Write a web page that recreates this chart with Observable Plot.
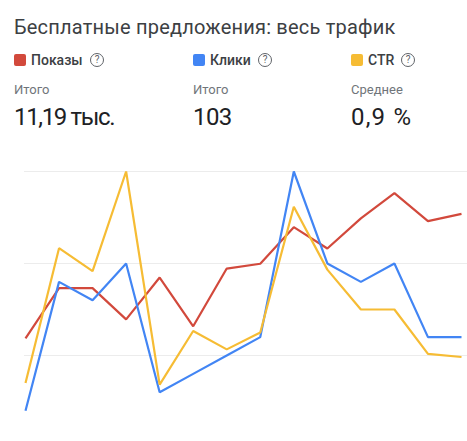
<!DOCTYPE html>
<html lang="ru">
<head>
<meta charset="utf-8">
<script src="https://cdn.jsdelivr.net/npm/d3@7"></script>
<script src="https://cdn.jsdelivr.net/npm/@observablehq/plot@0.6"></script>
<style>
html,body{margin:0;padding:0;background:#fff;overflow:hidden}
#page{position:relative;width:467px;height:441px;font-family:Roboto,sans-serif;color:#202124}
#page div.t{position:absolute;white-space:nowrap;line-height:1}
.title{left:14px;top:17px;font-size:20px;letter-spacing:.2px;color:#3c4043}
.sw{position:absolute;top:54px;width:12px;height:12px;border-radius:2px}
.name{top:53px;font-size:14px;font-weight:500;color:#3c4043}
.help{position:absolute;top:53px;width:12px;height:12px;border:1.2px solid #5f6368;border-radius:50%;font-size:10px;line-height:12px;text-align:center;color:#5f6368}
.sub{top:83px;font-size:13px;color:#70757a}
.val{top:105px;font-size:24px;color:#202124}
#chart{position:absolute;left:0;top:150px}
</style>
</head>
<body>
<div id="page">
  <div class="t title">Бесплатные предложения: весь трафик</div>
  <div id="head"></div>
  <div id="chart"></div>
</div>
<script>
const periods = [0,1,2,3,4,5,6,7,8,9,10,11,12,13];
const impressions = [474,693,693,557,739,527,778,799,958,865,996,1106,984,1016];
const clicks = [2,9,8,10,3,4,5,6,15,10,9,10,6,6];
const ctr = [0.42,1.30,1.15,1.80,0.41,0.76,0.64,0.75,1.57,1.16,0.90,0.90,0.61,0.59];
const seriesNames = ["Показы","Клики","CTR"];
const seriesColors = ["#d2493c","#4285f4","#f6bc34"];
const axisMax = [1200,15,1.8];
const gridFractions = [1/3,2/3,1];
const summaryLabels = ["Итого","Итого","Среднее"];
const summaryValues = ["11,19 тыс.","103","0,9 %"];

const columns = [14,193,351];
const helpOffsets = [76,65,50];
const valueSpacing = [-1.35,-0.6,1.2];
const head = document.getElementById("head");
seriesNames.forEach((n,i)=>{
  const x = columns[i];
  head.insertAdjacentHTML("beforeend",
    `<span class="sw" style="left:${x}px;background:${seriesColors[i]}"></span>`+
    `<div class="t name" style="left:${x+17}px">${n}</div>`+
    `<span class="help" style="left:${x+helpOffsets[i]}px">?</span>`+
    `<div class="t sub" style="left:${x}px">${summaryLabels[i]}</div>`+
    `<div class="t val" style="left:${x}px;letter-spacing:${valueSpacing[i]}px">${summaryValues[i]}</div>`);
});

const rows = [impressions,clicks,ctr].flatMap((vals,s)=>
  vals.map((v,i)=>({period:periods[i],share:v/axisMax[s],series:seriesNames[s]})));

const plot = Plot.plot({
  width:467,height:291,
  marginTop:21,marginBottom:0,marginLeft:25,marginRight:6,
  style:{background:"transparent",overflow:"visible"},
  x:{domain:[0,13],axis:null},
  y:{domain:[0.0217,1],axis:null},
  color:{domain:seriesNames,range:seriesColors},
  marks:[
    Plot.ruleY(gridFractions,{x1:-0.03,x2:13.18,stroke:"#ececec",strokeWidth:1.2}),
    Plot.line(rows,{x:"period",y:"share",z:"series",stroke:"series",strokeWidth:2.2,strokeLinejoin:"miter",strokeLinecap:"butt",curve:"linear"})
  ]
});
document.getElementById("chart").appendChild(plot);
</script>
</body>
</html>
